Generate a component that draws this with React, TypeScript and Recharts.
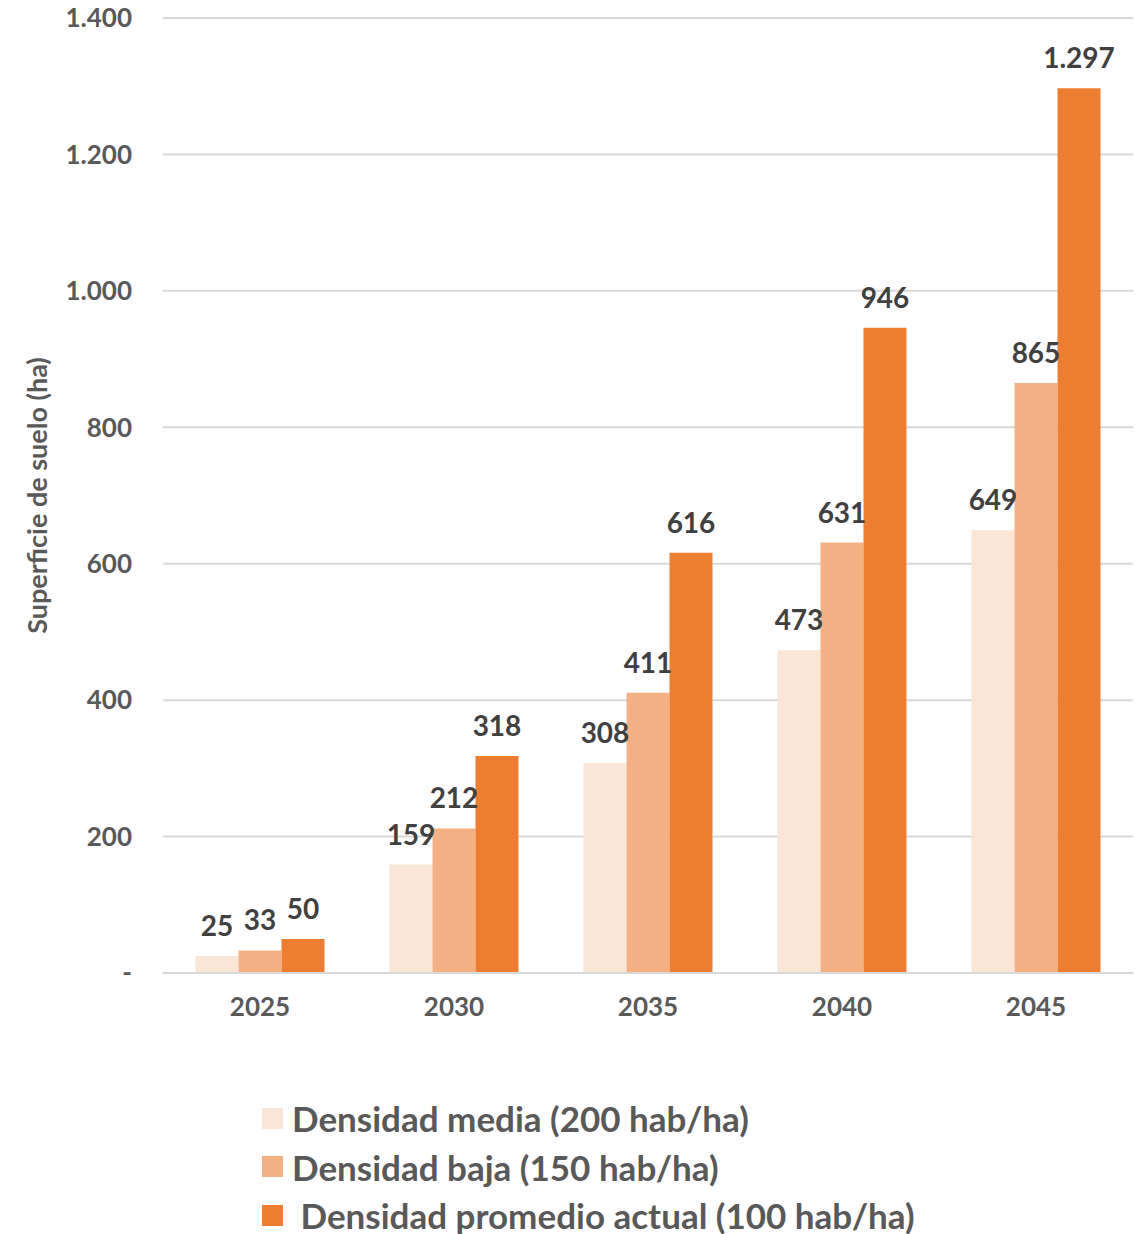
import React from 'react';
import { BarChart, Bar, XAxis, YAxis, CartesianGrid, LabelList } from 'recharts';

// Valores (ha)
const years = ['2025', '2030', '2035', '2040', '2045'];
const densidadMedia = [25, 159, 308, 473, 649];
const densidadBaja = [33, 212, 411, 631, 865];
const densidadActual = [50, 318, 616, 946, 1297];
const yTicks = [0, 200, 400, 600, 800, 1000, 1200, 1400];

const seriesNames = [
  'Densidad media (200 hab/ha)',
  'Densidad baja (150 hab/ha)',
  ' Densidad promedio actual (100 hab/ha)',
];
const seriesKeys = ['media', 'baja', 'actual'];
const seriesColors = ['#FBE5D6', '#F4B183', '#ED7D31'];

const data = years.map((year, i) => ({
  year,
  media: densidadMedia[i],
  baja: densidadBaja[i],
  actual: densidadActual[i],
}));

const FONT = 'Lato, "Open Sans", sans-serif';

// formato con punto de miles, como en el original
const fmt = (v: number) => (v === 0 ? '-' : v.toLocaleString('de-DE'));

export default function App() {
  return (
    <div style={{ position: 'relative', width: 1139, height: 1234, marginTop: -8, fontFamily: FONT }}>
      <BarChart
        width={1139}
        height={1068}
        data={data}
        margin={{ top: 18, right: 14, left: 0, bottom: 35 }}
        barCategoryGap="16.75%"
        barGap={0}
      >
        <CartesianGrid vertical={false} stroke="#D9D9D9" strokeWidth={2} />
        <XAxis
          dataKey="year"
          height={60}
          tickLine={false}
          axisLine={{ stroke: '#D9D9D9', strokeWidth: 2 }}
          tickMargin={19}
          tick={{ fill: '#595959', fontSize: 26, fontWeight: 700, fontFamily: FONT }}
        />
        <YAxis
          width={155}
          domain={[0, 1400]}
          ticks={yTicks}
          interval={0}
          tickLine={false}
          axisLine={false}
          tickMargin={25}
          tickFormatter={fmt}
          tick={{ fill: '#595959', fontSize: 26, fontWeight: 700, fontFamily: FONT }}
          label={{
            value: 'Superficie de suelo (ha)',
            angle: -90,
            position: 'center',
            dx: -48,
            fill: '#595959',
            fontSize: 27,
            fontWeight: 700,
            fontFamily: FONT,
          }}
        />
        {seriesKeys.map((key, i) => (
          <Bar key={key} dataKey={key} name={seriesNames[i]} fill={seriesColors[i]} isAnimationActive={false}>
            <LabelList
              dataKey={key}
              position="top"
              offset={20}
              formatter={(v: any) => fmt(Number(v))}
              style={{ fill: '#404040', fontSize: 28, fontWeight: 700, fontFamily: FONT }}
            />
          </Bar>
        ))}
      </BarChart>

      {/* leyenda vertical bajo el gráfico */}
      <div style={{ position: 'absolute', left: 254, top: 1094 }}>
        {seriesNames.map((name, i) => (
          <div key={name} style={{ display: 'flex', alignItems: 'center', height: 48.5 }}>
            <span style={{ width: 21, height: 21, background: seriesColors[i], marginRight: 9, display: 'inline-block', flexShrink: 0 }} />
            <span style={{ fontSize: 35, lineHeight: '40px', fontWeight: 700, color: '#595959', whiteSpace: 'pre' }}>{name}</span>
          </div>
        ))}
      </div>
    </div>
  );
}
